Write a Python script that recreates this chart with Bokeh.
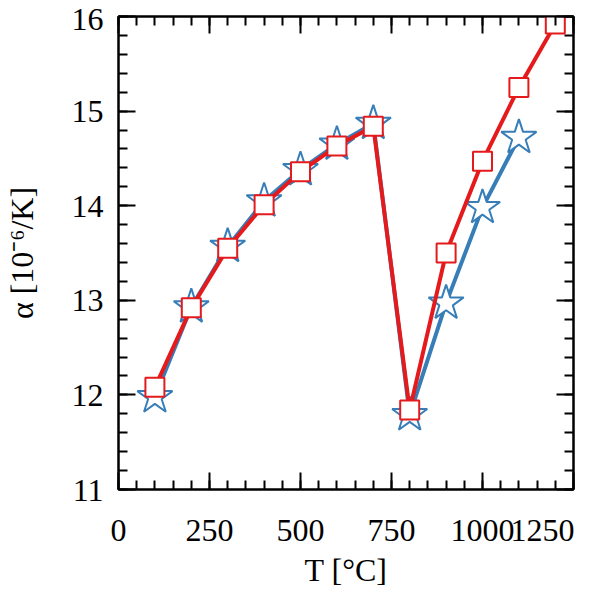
from bokeh.plotting import figure
from bokeh.models import Range1d, LinearAxis, SingleIntervalTicker, CustomJSTickFormatter
from bokeh.embed import file_html
from bokeh.resources import INLINE

# data
temps_blue = [100, 200, 300, 400, 500, 600, 700, 800, 900, 1000, 1100]
alpha_blue = [11.98, 12.93, 13.57, 14.05, 14.38, 14.65, 14.87, 11.79, 12.97, 13.98, 14.72]
temps_red = [100, 200, 300, 400, 500, 600, 700, 800, 900, 1000, 1100, 1200]
alpha_red = [12.08, 12.92, 13.55, 14.01, 14.36, 14.63, 14.84, 11.84, 13.50, 14.47, 15.25, 15.92]
x_ticks = [0, 250, 500, 750, 1000, 1250]
y_ticks = [11, 12, 13, 14, 15, 16]

BLUE = "#377eb8"
RED = "#e41a1c"
FONT = "Liberation Serif"
FS = "32px"

p = figure(width=590, height=590, output_backend="svg", toolbar_location=None,
           x_range=Range1d(x_ticks[0], x_ticks[-1]), y_range=Range1d(y_ticks[0], y_ticks[-1]),
           x_axis_type=None, y_axis_type=None,
           min_border_left=117, min_border_right=17, min_border_top=16, min_border_bottom=100)
p.grid.visible = False
p.outline_line_color = "black"
p.outline_line_width = 2
p.background_fill_color = "white"
p.border_fill_color = "white"


def make_axis(interval, show_labels, label=None):
    ax = LinearAxis(ticker=SingleIntervalTicker(interval=interval, num_minor_ticks=5))
    ax.axis_line_width = 2
    ax.axis_line_color = "black"
    ax.major_tick_in = 17
    ax.major_tick_out = 0
    ax.minor_tick_in = 9
    ax.minor_tick_out = 0
    ax.major_tick_line_width = 2
    ax.minor_tick_line_width = 2
    ax.major_tick_line_color = "black"
    ax.minor_tick_line_color = "black"
    if show_labels:
        ax.major_label_text_font = FONT
        ax.major_label_text_font_size = FS
        ax.major_label_text_color = "black"
    else:
        ax.formatter = CustomJSTickFormatter(code="return ''")
        ax.major_label_standoff = 0
        ax.major_label_text_font_size = "1px"
    if label is not None:
        ax.axis_label = label
        ax.axis_label_text_font = FONT
        ax.axis_label_text_font_size = FS
        ax.axis_label_text_font_style = "normal"
        ax.axis_label_text_color = "black"
    return ax


xb = make_axis(x_ticks[1] - x_ticks[0], True, "T [°C]")
xb.major_label_standoff = 22
xb.axis_label_standoff = 1
# the last label is nudged left (as in the reference) so it stays inside the picture
xb.major_label_overrides = {x_ticks[-1]: str(x_ticks[-1]) + " " * 2}
p.add_layout(xb, "below")

yl = make_axis(y_ticks[1] - y_ticks[0], True, "α [10⁻⁶/K]")
yl.major_label_standoff = 15
yl.axis_label_standoff = 29
# the top label is nudged down (as in the reference) so it stays inside the picture
yl.major_label_overrides = {y_ticks[-1]: "\n" + str(y_ticks[-1])}
yl.major_label_text_line_height = 0.01
p.add_layout(yl, "left")

p.add_layout(make_axis(x_ticks[1] - x_ticks[0], False), "above")
p.add_layout(make_axis(y_ticks[1] - y_ticks[0], False), "right")

p.line(temps_blue, alpha_blue, line_color=BLUE, line_width=4)
p.scatter(temps_blue, alpha_blue, marker="star", size=37, fill_color="white",
          line_color=BLUE, line_width=2)
p.line(temps_red, alpha_red, line_color=RED, line_width=4)
p.scatter(temps_red, alpha_red, marker="square", size=19, fill_color="white",
          line_color=RED, line_width=2)

open("out.html", "w").write(file_html(p, INLINE))
